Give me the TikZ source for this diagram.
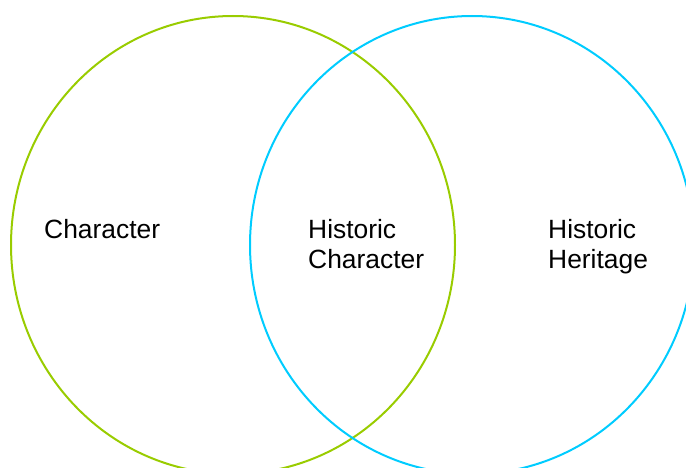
\documentclass[tikz,border=0pt]{standalone}
\usepackage{fontspec}
\setmainfont{Liberation Sans}
\definecolor{vgreen}{HTML}{99CC00}
\definecolor{vblue}{HTML}{00CCFF}
\begin{document}
\begin{tikzpicture}[x=1pt,y=-1pt,
  ring/.style={line width=2pt},
  lbl/.style={anchor=base west, align=left, inner sep=0pt, font=\fontsize{26.4}{29.5}\selectfont}]
\useasboundingbox (0,0) rectangle (686,468);
\clip (0,0) rectangle (686,468);
\draw[ring, vgreen] (233,245) ellipse [x radius=222, y radius=229];
\draw[ring, vblue] (472,245) ellipse [x radius=222, y radius=229];
\node[lbl] (a) at (44,239) {Character};
\node[lbl] (b) at (308,268.5) {Historic\\Character};
\node[lbl] (c) at (548,268.5) {Historic\\Heritage};
\end{tikzpicture}
\end{document}
